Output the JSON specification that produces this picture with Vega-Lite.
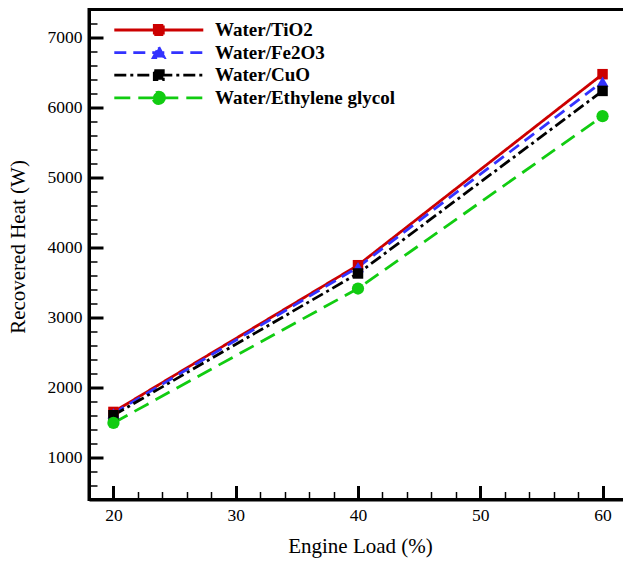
{
  "$schema": "https://vega.github.io/schema/vega-lite/v6.json",
  "width": 538,
  "height": 490,
  "autosize": "none",
  "padding": {"left": 89, "top": 9.5, "right": 0, "bottom": 62.5},
  "background": "white",
  "config": {
    "view": {"stroke": "black", "strokeWidth": 3},
    "font": "Liberation Serif",
    "axis": {
      "domainColor": "black",
      "domainWidth": 3,
      "tickColor": "black",
      "labelColor": "black",
      "labelFont": "Liberation Serif",
      "labelFontSize": 17.5,
      "titleFont": "Liberation Serif",
      "titleFontSize": 21,
      "titleFontWeight": "normal",
      "titleColor": "black",
      "grid": false
    }
  },
  "data": {
    "values": [
      {"load": 20, "heat": 1651, "series": "Water/TiO2"},
      {"load": 40, "heat": 3747, "series": "Water/TiO2"},
      {"load": 60, "heat": 6476, "series": "Water/TiO2"},
      {"load": 20, "heat": 1630, "series": "Water/Fe2O3"},
      {"load": 40, "heat": 3720, "series": "Water/Fe2O3"},
      {"load": 60, "heat": 6370, "series": "Water/Fe2O3"},
      {"load": 20, "heat": 1604, "series": "Water/CuO"},
      {"load": 40, "heat": 3629, "series": "Water/CuO"},
      {"load": 60, "heat": 6237, "series": "Water/CuO"},
      {"load": 20, "heat": 1494, "series": "Water/Ethylene glycol"},
      {"load": 40, "heat": 3414, "series": "Water/Ethylene glycol"},
      {"load": 60, "heat": 5876, "series": "Water/Ethylene glycol"}
    ]
  },
  "encoding": {
    "x": {
      "field": "load",
      "type": "quantitative",
      "scale": {"domain": [18, 62], "nice": false, "zero": false},
      "axis": {
        "title": "Engine Load (%)",
        "values": [18, 20, 22, 24, 26, 28, 30, 32, 34, 36, 38, 40, 42, 44, 46, 48, 50, 52, 54, 56, 58, 60, 62],
        "labelExpr": "datum.value % 10 === 0 ? datum.label : ''",
        "tickSize": {"condition": {"test": "datum.value % 10 === 0", "value": -14}, "value": -8},
        "tickWidth": {"condition": {"test": "datum.value % 10 === 0", "value": 3}, "value": 1.5},
        "labelPadding": 21,
        "labelFlush": false,
        "labelOverlap": false,
        "titleBaseline": "alphabetic",
        "titleY": 52.7,
        "titleX": 271
      }
    },
    "y": {
      "field": "heat",
      "type": "quantitative",
      "scale": {"domain": [400, 7400], "nice": false, "zero": false},
      "axis": {
        "title": "Recovered Heat (W)",
        "values": [400, 600, 800, 1000, 1200, 1400, 1600, 1800, 2000, 2200, 2400, 2600, 2800, 3000, 3200, 3400, 3600, 3800, 4000, 4200, 4400, 4600, 4800, 5000, 5200, 5400, 5600, 5800, 6000, 6200, 6400, 6600, 6800, 7000, 7200, 7400],
        "labelExpr": "datum.value % 1000 === 0 ? datum.label : ''",
        "format": "d",
        "tickSize": {"condition": {"test": "datum.value % 1000 === 0", "value": -14}, "value": -8},
        "tickWidth": {"condition": {"test": "datum.value % 1000 === 0", "value": 3}, "value": 1.5},
        "labelPadding": 21,
        "labelFlush": false,
        "labelOverlap": false,
        "titleAngle": 270,
        "titleBaseline": "alphabetic",
        "titleAlign": "center",
        "titleX": -64.5,
        "titleY": 237
      }
    },
    "color": {
      "field": "series",
      "type": "nominal",
      "scale": {
        "domain": ["Water/TiO2", "Water/Fe2O3", "Water/CuO", "Water/Ethylene glycol"],
        "range": ["#cc0000", "#3333ff", "#000000", "#11cc11"]
      },
      "legend": {
        "title": null,
        "orient": "none",
        "legendX": 60,
        "legendY": 11,
        "padding": 0,
        "symbolSize": 100,
        "symbolOffset": 0.3,
        "labelOffset": 46.7,
        "symbolStrokeWidth": 2.8,
        "rowPadding": 0.6,
        "labelFont": "Liberation Serif",
        "labelFontSize": 19,
        "labelFontWeight": "bold",
        "labelColor": "black",
        "labelLimit": 400,
        "encode": {
          "symbols": {
            "update": {
              "shape": {"signal": "datum.value === 'Water/TiO2' ? 'M-8.9,0H8.9M-0.9,-0.9H0.9V0.9H-0.9Z' : datum.value === 'Water/Fe2O3' ? 'M-8.9,0H8.9M0,-1.1L1.1,1.0L-1.1,1.0Z' : datum.value === 'Water/CuO' ? 'M-8.9,0H8.9M-0.9,-0.9H0.9V0.9H-0.9Z' : 'M-8.9,0H8.9M1.15,0A1.15,1.15,0,1,1,-1.15,0A1.15,1.15,0,1,1,1.15,0Z'"},
              "fill": {"signal": "scale('color', datum.value)"},
              "stroke": {"signal": "scale('color', datum.value)"},
              "opacity": {"value": 1}
            }
          }
        }
      }
    },
    "strokeDash": {
      "field": "series",
      "type": "nominal",
      "scale": {
        "domain": ["Water/TiO2", "Water/Fe2O3", "Water/CuO", "Water/Ethylene glycol"],
        "range": [[1, 0], [12, 7], [12, 4, 3, 4], [16, 8]]
      },
      "legend": {"title": null}
    }
  },
  "layer": [
    {
      "mark": {"type": "line", "strokeWidth": 2.8}
    },
    {
      "transform": [{"filter": "datum.series === 'Water/TiO2'"}],
      "mark": {"type": "point", "filled": true, "opacity": 1, "shape": "square", "size": 110}
    },
    {
      "transform": [{"filter": "datum.series === 'Water/Fe2O3'"}],
      "mark": {"type": "point", "filled": true, "opacity": 1, "shape": "triangle-up", "size": 144}
    },
    {
      "transform": [{"filter": "datum.series === 'Water/CuO'"}],
      "mark": {"type": "point", "filled": true, "opacity": 1, "shape": "square", "size": 110}
    },
    {
      "transform": [{"filter": "datum.series === 'Water/Ethylene glycol'"}],
      "mark": {"type": "point", "filled": true, "opacity": 1, "shape": "circle", "size": 150}
    }
  ]
}
